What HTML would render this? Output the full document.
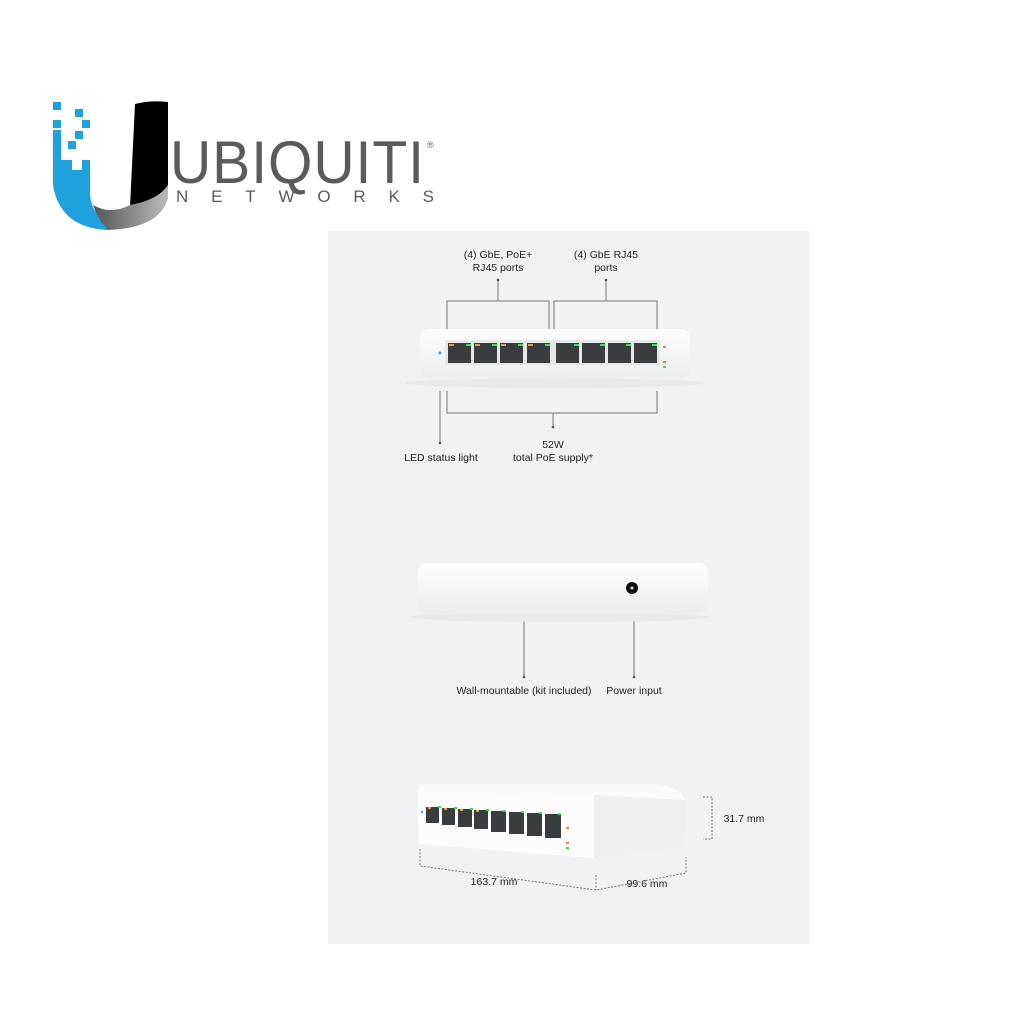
<!DOCTYPE html>
<html><head><meta charset="utf-8"><style>
html,body{margin:0;padding:0;background:#fff;width:1013px;height:1024px;overflow:hidden}
svg{display:block}
text{font-family:"Liberation Sans",sans-serif;fill:#222}
</style></head><body>
<svg width="1013" height="1024" viewBox="0 0 1013 1024" xmlns="http://www.w3.org/2000/svg">
<defs>
<linearGradient id="gr" x1="0" y1="0" x2="1" y2="0"><stop offset="0" stop-color="#555"/><stop offset="1" stop-color="#bbb"/></linearGradient>
<linearGradient id="sw" x1="0" y1="0" x2="0" y2="1"><stop offset="0" stop-color="#fdfdfd"/><stop offset="1" stop-color="#eceded"/></linearGradient>
</defs>
<!-- logo -->
<g fill="#1ea1dc">
<rect x="53" y="102" width="8" height="8"/><rect x="75" y="109" width="8" height="8"/><rect x="82" y="120" width="8" height="8"/><rect x="75" y="131" width="8" height="8"/><rect x="68" y="141" width="8" height="8"/><rect x="53" y="120" width="8" height="8"/>
<path d="M53 130 L61 130 L61 160 L72 160 L72 170 L82 170 L82 160 L90 160 L90 195 Q92 218 115 225 L108 230 Q60 228 53 185 Z"/>
</g>
<path d="M135 104 Q150 100 168 102 L168 185 Q160 205 130 207 Z" fill="#000"/>
<path d="M93 205 Q110 215 130 205 Q158 200 168 185 L168 198 Q160 228 108 230 Q98 220 93 205 Z" fill="url(#gr)"/>
<text x="170" y="183" font-size="60" style="fill:#5a5b5e;letter-spacing:1px" textLength="255" lengthAdjust="spacingAndGlyphs">UBIQUITI</text>
<text x="427" y="148" font-size="9" style="fill:#5a5b5e">®</text>
<text x="176" y="202" font-size="17" style="fill:#5a5b5e" textLength="258" lengthAdjust="spacing">NETWORKS</text>
<!-- panel -->
<rect x="328" y="231" width="481" height="713" fill="#f1f2f3"/>
<g font-size="10.5" text-anchor="middle">
<text x="498" y="258">(4) GbE, PoE+</text><text x="498" y="271">RJ45 ports</text>
<text x="606" y="258">(4) GbE RJ45</text><text x="606" y="271">ports</text>
<text x="441" y="461">LED status light</text>
<text x="553" y="448">52W</text><text x="553" y="461">total PoE supply*</text>
<text x="524" y="694">Wall-mountable (kit included)</text>
<text x="634" y="694">Power input</text>
<text x="744" y="822">31.7 mm</text>
<text x="494" y="885">163.7 mm</text>
<text x="647" y="887">99.6 mm</text>
</g>
<g stroke="#777" stroke-width="1" fill="none">
<path d="M498 280 V301 M447 329 V301 H549 V329 M606 280 V301 M554 329 V301 H657 V329"/>
<path d="M440 391 V443 M447 391 V413 H657 V391 M553 413 V427"/>
<path d="M524 620 V677 M634 620 V677"/>
<path d="M703 797 H712 V839 H703" stroke-dasharray="2 1.5"/>
<path d="M420 849 V866 L596 890 L686 873 V857 M596 875 V890" stroke-dasharray="2 1.5"/>
</g>
<g fill="#555"><circle cx="498" cy="280" r="1.3"/><circle cx="606" cy="280" r="1.3"/><circle cx="440" cy="443" r="1.3"/><circle cx="553" cy="427" r="1.3"/><circle cx="524" cy="677" r="1.3"/><circle cx="634" cy="677" r="1.3"/></g>
<!-- top switch -->
<ellipse cx="555" cy="383" rx="150" ry="5" fill="#e8e9ea"/>
<rect x="420" y="329" width="270" height="49" rx="9" fill="url(#sw)"/>
<rect x="445" y="340" width="215" height="25" fill="#e6e7e8"/>
<circle cx="440" cy="353" r="1.5" fill="#3aa0e0"/>
<g fill="#3a3d40">
<rect x="448" y="343" width="23" height="20"/><rect x="474" y="343" width="23" height="20"/><rect x="500" y="343" width="23" height="20"/><rect x="527" y="343" width="23" height="20"/>
<rect x="556" y="343" width="23" height="20"/><rect x="582" y="343" width="23" height="20"/><rect x="608" y="343" width="23" height="20"/><rect x="634" y="343" width="23" height="20"/>
</g>
<g fill="#e9a03a"><rect x="449" y="344" width="5" height="2"/><rect x="475" y="344" width="5" height="2"/><rect x="501" y="344" width="5" height="2"/><rect x="528" y="344" width="5" height="2"/></g>
<g fill="#3ee05a"><rect x="466" y="344" width="5" height="2"/><rect x="492" y="344" width="5" height="2"/><rect x="518" y="344" width="5" height="2"/><rect x="545" y="344" width="5" height="2"/><rect x="574" y="344" width="5" height="2"/><rect x="600" y="344" width="5" height="2"/><rect x="626" y="344" width="5" height="2"/><rect x="652" y="344" width="5" height="2"/></g>
<g fill="#e98a3a"><rect x="663" y="346" width="3" height="2"/><rect x="663" y="361" width="3" height="2"/></g>
<rect x="663" y="366" width="3" height="2" fill="#3ee05a"/>
<!-- middle switch -->
<ellipse cx="560" cy="617" rx="150" ry="5" fill="#e8e9ea"/>
<rect x="418" y="563" width="290" height="50" rx="9" fill="url(#sw)"/>
<circle cx="632" cy="588" r="6" fill="#111"/><circle cx="632" cy="588" r="1.5" fill="#ddd"/>
<!-- bottom switch -->
<path d="M424 784 L650 784 Q680 786 685 800 L685 836 Q685 846 675 848 L600 858 L592 858 L420 844 L418 840 L418 792 Q418 786 424 784 Z" fill="#fafafa"/>
<path d="M594 795 L685 800 L685 836 Q685 846 675 848 L600 858 L594 858 Z" fill="#f0f0f1"/>
<path d="M418 792 L594 795 L594 858 L420 844 Z" fill="#fcfcfc"/>
<g fill="#3a3d40">
<rect x="426" y="807" width="13" height="16"/><rect x="442" y="808" width="13" height="17"/><rect x="458" y="809" width="14" height="18"/><rect x="474" y="810" width="14" height="19"/>
<rect x="491" y="811" width="15" height="21"/><rect x="509" y="812" width="15" height="22"/><rect x="527" y="813" width="15" height="23"/><rect x="545" y="814" width="16" height="24"/>
</g>
<g fill="#e9a03a"><rect x="428" y="807" width="3" height="2"/><rect x="444" y="808" width="3" height="2"/><rect x="460" y="809" width="3" height="2"/><rect x="476" y="810" width="3" height="2"/></g>
<g fill="#3ee05a"><rect x="438" y="806" width="3" height="2"/><rect x="454" y="807" width="3" height="2"/><rect x="470" y="808" width="3" height="2"/><rect x="486" y="809" width="3" height="2"/><rect x="503" y="810" width="3" height="2"/><rect x="521" y="811" width="3" height="2"/><rect x="539" y="812" width="3" height="2"/><rect x="558" y="813" width="3" height="2"/></g>
<circle cx="422" cy="812" r="1.2" fill="#3aa0e0"/>
<g fill="#e98a3a"><rect x="566" y="827" width="3" height="2"/><rect x="566" y="842" width="3" height="2"/></g>
<rect x="566" y="847" width="3" height="2" fill="#3ee05a"/>
</svg>
</body></html>
